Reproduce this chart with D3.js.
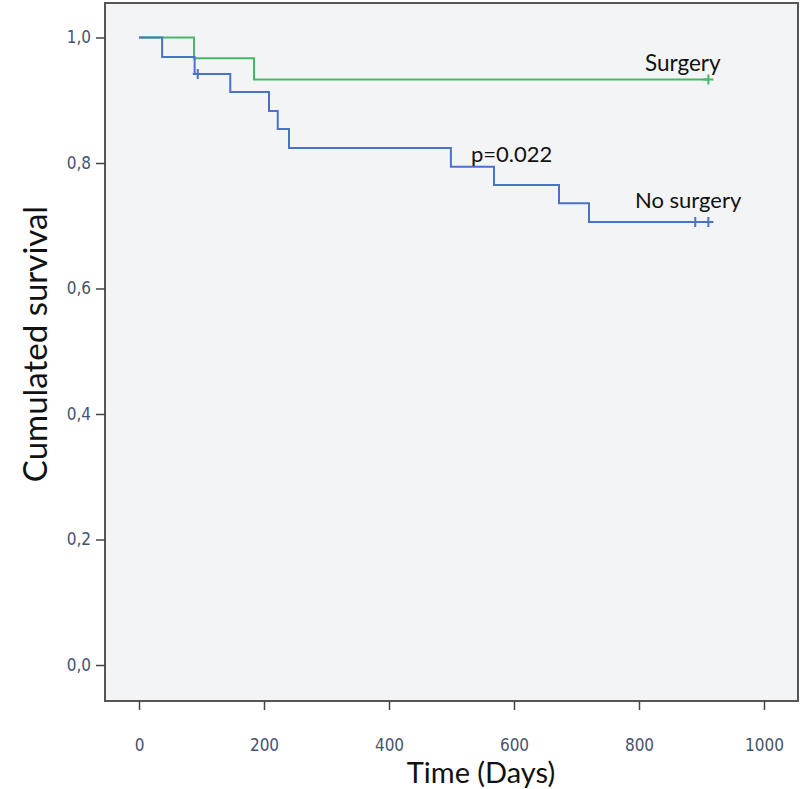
<!DOCTYPE html>
<html><head><meta charset="utf-8">
<script src="https://cdn.jsdelivr.net/npm/d3@7"></script>
<style>body{margin:0;background:#fff}</style>
</head><body>
<svg id="c" width="800" height="789"></svg>
<script>
// Kaplan-Meier steps: [time(days), survival]
const surgeryTimes = [0, 88, 184, 911];
const surgerySurv  = [1.0, 0.967, 0.933, 0.933];
const surgeryCensor = [911];

const noSurgeryTimes = [0, 37, 89, 146, 208, 222, 240, 499, 568, 672, 720, 911];
const noSurgerySurv  = [1.0, 0.969, 0.942, 0.913, 0.883, 0.854, 0.824, 0.794, 0.765, 0.736, 0.706, 0.706];
const noSurgeryCensor = [[94, 0.942], [890, 0.706], [911, 0.706]];

const xTicks = [0, 200, 400, 600, 800, 1000];
const yTicks = [0, 0.2, 0.4, 0.6, 0.8, 1.0];

const svg = d3.select("#c");
const box = {l:105, t:3, r:798, b:701};
const x = d3.scaleLinear().domain([0,1000]).range([139,764]);
const y = d3.scaleLinear().domain([0,1]).range([665,37.5]);

svg.append("rect").attr("x",box.l).attr("y",box.t).attr("width",box.r-box.l).attr("height",box.b-box.t)
  .attr("fill","#f3f4f6").attr("stroke","#555").attr("stroke-width",2);

const tickFont = "'DejaVu Sans Condensed','DejaVu Sans',sans-serif";
// y axis ticks
const yAxis = d3.axisLeft(y).tickValues(yTicks).tickSize(9).tickFormat(d=>d3.format(".1f")(d).replace(".",","));
const gy = svg.append("g").attr("transform",`translate(${box.l},0)`).call(yAxis);
gy.select(".domain").remove();
gy.attr("font-size",null).attr("font-family",null);
gy.selectAll(".tick line").attr("stroke","#444").attr("stroke-width",1.5);
gy.selectAll(".tick text").style("font-family",tickFont).style("font-size","17px")
  .attr("fill","#46536f").attr("x",-14);

// x axis ticks
const xAxis = d3.axisBottom(x).tickValues(xTicks).tickSize(9).tickFormat(d3.format("d"));
const gx = svg.append("g").attr("transform",`translate(0,${box.b})`).call(xAxis);
gx.select(".domain").remove();
gx.attr("font-size",null).attr("font-family",null);
gx.selectAll(".tick line").attr("stroke","#444").attr("stroke-width",1.5);
gx.selectAll(".tick text").style("font-family",tickFont).style("font-size","17px")
  .attr("fill","#46536f").attr("y",38);

const line = d3.line().x(d=>x(d[0])).y(d=>y(d[1])).curve(d3.curveStepAfter);

function drawCurve(times, surv, color){
  const pts = times.map((t,i)=>[t,surv[i]]);
  svg.append("path").datum(pts).attr("d",line).attr("fill","none").attr("stroke",color).attr("stroke-width",2);
}
function censor(pts, color){
  pts.forEach(p=>{
    const cx=x(p[0]), cy=y(p[1]);
    svg.append("path").attr("d",`M${cx-5},${cy}H${cx+5}M${cx},${cy-5}V${cy+5}`).attr("stroke",color).attr("stroke-width",2);
  });
}
const green="#45b865", blue="#4a72c8";
drawCurve(surgeryTimes, surgerySurv, green);
drawCurve(noSurgeryTimes, noSurgerySurv, blue);
censor(surgeryCensor.map(t=>[t,surgerySurv[surgerySurv.length-1]]), green);
censor(noSurgeryCensor, blue);

const lab = (t,xx,yy,fs,anchor)=>svg.append("text").text(t).attr("x",xx).attr("y",yy)
  .attr("font-family","Lato, sans-serif").attr("font-size",fs).attr("fill","#111").attr("text-anchor",anchor||"start");
lab("Surgery",645,71,22.5);
lab("No surgery",635,208,22);
lab("p=0.022",471,162,22);
lab("Time (Days)",481,783,29,"middle");
svg.append("text").text("Cumulated survival").attr("transform","translate(47,344) rotate(-90)")
  .attr("font-family","Lato, sans-serif").attr("font-size",33).attr("fill","#111").attr("text-anchor","middle");
</script>
</body></html>
